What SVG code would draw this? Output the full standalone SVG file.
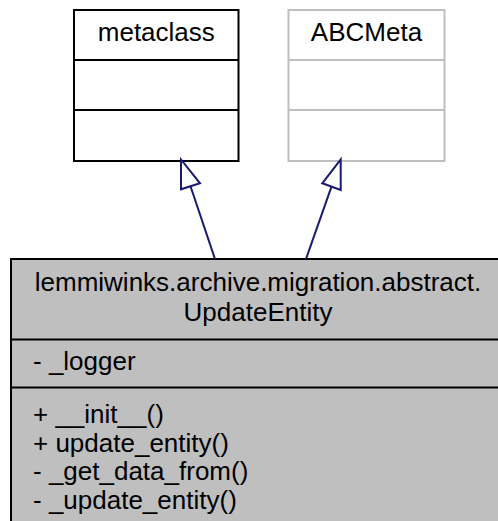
<svg xmlns="http://www.w3.org/2000/svg" width="498" height="521" viewBox="0 0 498 521">
<style>
text{font-family:"Liberation Sans",Arial,Helvetica,sans-serif;font-size:26px;fill:#000}
.c{text-anchor:middle}
.edge{stroke:#191970;stroke-width:2;fill:none}
.head{stroke:#191970;stroke-width:2;fill:#fff}
</style>
<rect width="498" height="521" fill="#fff"/>
<g id="metaclass">
<rect x="74" y="10" width="164.5" height="151" fill="#fff" stroke="#000" stroke-width="2"/>
<line x1="74" y1="60" x2="238.5" y2="60" stroke="#000" stroke-width="2"/>
<line x1="74" y1="110" x2="238.5" y2="110" stroke="#000" stroke-width="2"/>
<text class="c" x="156.3" y="41">metaclass</text>
</g>
<g id="ABCMeta">
<rect x="288.5" y="10" width="156" height="151" fill="#fff" stroke="#bfbfbf" stroke-width="2"/>
<line x1="288.5" y1="60" x2="444.5" y2="60" stroke="#bfbfbf" stroke-width="2"/>
<line x1="288.5" y1="110" x2="444.5" y2="110" stroke="#bfbfbf" stroke-width="2"/>
<text class="c" x="366.5" y="41">ABCMeta</text>
</g>
<g id="UpdateEntity">
<rect x="11" y="259" width="496" height="280" fill="#bfbfbf" stroke="#000" stroke-width="2"/>
<line x1="11" y1="339.5" x2="507" y2="339.5" stroke="#000" stroke-width="2"/>
<line x1="11" y1="387.5" x2="507" y2="387.5" stroke="#000" stroke-width="2"/>
<text class="c" x="258" y="290.5">lemmiwinks.archive.migration.abstract.</text>
<text class="c" x="258" y="320.5">UpdateEntity</text>
<text x="33" y="369.5">- _logger</text>
<text x="33" y="423">+ __init__()</text>
<text x="33" y="451.5">+ update_entity()</text>
<text x="33" y="480">- _get_data_from()</text>
<text x="33" y="508.5">- _update_entity()</text>
</g>
<g id="edges">
<line class="edge" x1="215" y1="259" x2="190.5" y2="186.3"/>
<polygon class="head" points="181,159.5 181,189.3 200,183.3"/>
<line class="edge" x1="306" y1="259" x2="331.5" y2="186.7"/>
<polygon class="head" points="340.7,159.5 340.7,190 322.3,183.3"/>
</g>
</svg>
